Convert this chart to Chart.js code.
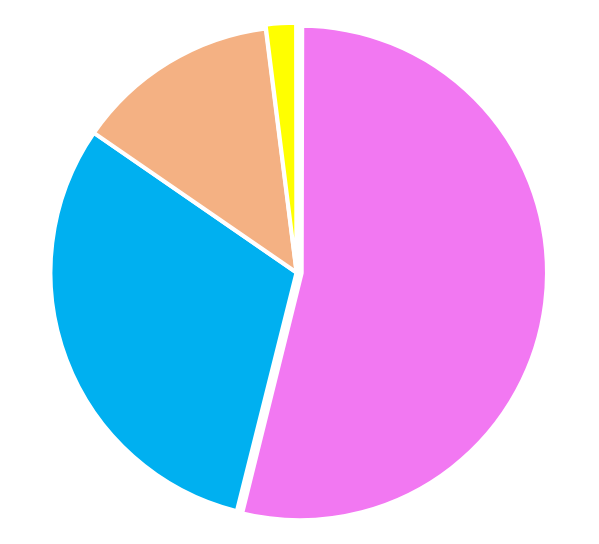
<!DOCTYPE html>
<html>
<head>
<meta charset="utf-8">
<script src="https://cdn.jsdelivr.net/npm/chart.js@4"></script>
<style>
  html, body { margin: 0; padding: 0; background: #ffffff; }
  #wrap { width: 599px; height: 544px; }
</style>
</head>
<body>
<div id="wrap"><canvas id="pie"></canvas></div>
<script>
// datos (porcentajes aproximados)
const categories = ["Categoría 1", "Categoría 2", "Categoría 3", "Categoría 4"];
const values = [53.9, 30.7, 13.4, 2.0];
const colors = ["#F278F2", "#00B0F0", "#F4B183", "#FFFF00"];
const offsets = [13, 0, 0, 8];
const borders = [8, 4, 4, 4];

new Chart(document.getElementById("pie"), {
  type: "pie",
  data: {
    labels: categories,
    datasets: [{
      data: values,
      backgroundColor: colors,
      borderColor: "#ffffff",
      borderWidth: borders,
      offset: offsets,
      hoverOffset: 0,
    }],
  },
  options: {
    responsive: true,
    maintainAspectRatio: false,
    animation: false,
    layout: { padding: { top: 16, bottom: 15, left: 20, right: 26 } },
    plugins: {
      legend: { display: false },
      tooltip: { enabled: false },
    },
  },
});
</script>
</body>
</html>
